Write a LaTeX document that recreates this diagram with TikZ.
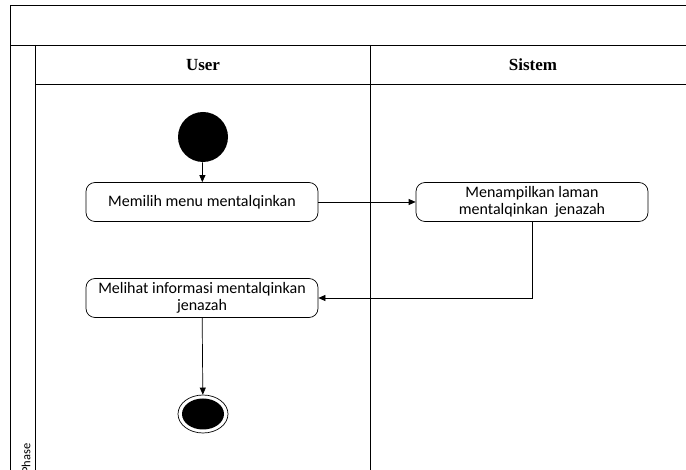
\documentclass[tikz,border=0pt]{standalone}
\usepackage{fontspec}
\setmainfont{Liberation Serif}
\newfontfamily\boxfont{Carlito}
\usetikzlibrary{arrows.meta,shapes.geometric,positioning,calc}

\begin{document}
\begin{tikzpicture}[x=1pt,y=-1pt,
		activity/.style={draw, rounded corners=9pt, minimum width=232pt, minimum height=39pt, align=center, line width=0.7pt, font=\boxfont\fontsize{16}{16.5}\selectfont},
		flow/.style={-{Triangle[length=7pt,width=6pt]}, line width=0.7pt},
		lane/.style={line width=0.8pt}]
		\useasboundingbox (0,0) rectangle (686,470);
		\clip (0,0) rectangle (686,470);

		% swimlane frame
		\draw[lane, line width=1pt] (10,490) -- (10,6) -- (700,6);
		\draw[lane] (10,45) -- (700,45);
		\draw[lane] (35,45) -- (35,490);
		\draw[lane] (370,45) -- (370,490);
		\draw[lane] (35,84) -- (700,84);
		\node[font=\bfseries\fontsize{17}{20}\selectfont] (user) at (203,65) {User};
		\node[font=\bfseries\fontsize{17}{20}\selectfont] (sistem) at (533,65) {Sistem};
		\node[rotate=90, anchor=west, inner sep=0pt, font=\boxfont\fontsize{12.5}{14}\selectfont] (phase) at (26,474) {Phase};

		% activities
		\node[circle, fill=black, minimum size=50pt] (start) at (203,137) {};
		\node[activity] (a1) at (202,202) {Memilih menu mentalqinkan};
		\node[activity] (a2) at (532,202) {Menampilkan laman\\mentalqinkan\ \ jenazah};
		\node[activity] (a3) at (202,298) {Melihat informasi mentalqinkan\\jenazah};
		\node[draw, ellipse, line width=0.7pt, minimum width=50pt, minimum height=38pt,
			path picture={\fill (path picture bounding box.center) ellipse (21pt and 15.5pt);}] (finish) at (203,414) {};

		\draw[flow] (start) -- (a1);
		\draw[flow] (a1) -- (a2);
		\draw[flow] (a2.south) |- (a3.east);
		\draw[flow] (a3) -- (finish);
	\end{tikzpicture}
\end{document}
